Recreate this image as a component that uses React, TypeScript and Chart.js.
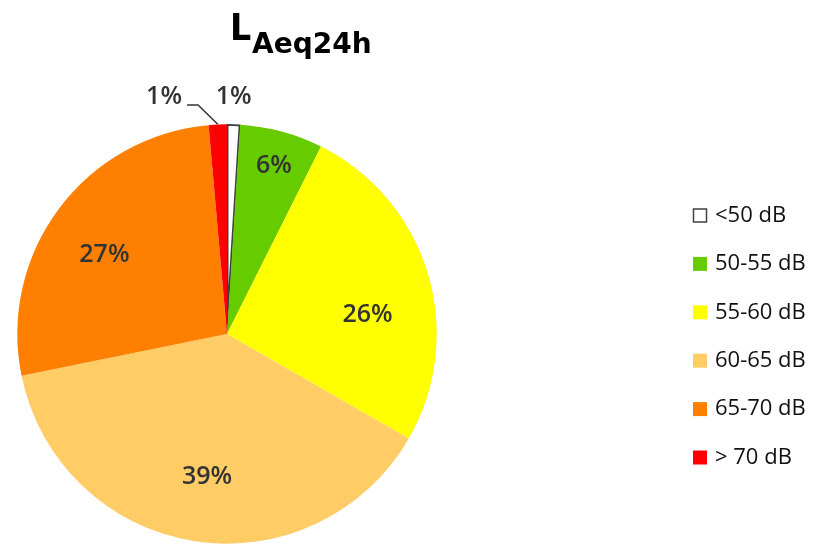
import React, { useEffect, useRef } from "react";
import { Chart, registerables } from "chart.js";

Chart.register(...registerables);

const categories = ["<50 dB", "50-55 dB", "55-60 dB", "60-65 dB", "65-70 dB", "> 70 dB"];
const shares = [1.0, 6.4, 25.9, 38.5, 26.8, 1.4];
const colors = ["#FFFFFF", "#66CC00", "#FFFF00", "#FFCC66", "#FF8000", "#FF0000"];
// label placement tweaks (radius factor, angle shift in degrees), mimicking Excel best-fit
const labelRadius = [1.134, 0.835, 0.676, 0.683, 0.697, 1.172];
const labelShift = [-0.2, 0.4, 8.6, -1.2, -3.6, -12.3];

const labelPlugin = {
  id: "pieLabels",
  afterDatasetsDraw(chart: any) {
    const ctx = chart.ctx;
    const meta = chart.getDatasetMeta(0);
    ctx.save();
    ctx.font = "600 25px 'Open Sans'";
    ctx.fillStyle = "#333333";
    ctx.textAlign = "center";
    ctx.textBaseline = "middle";
    meta.data.forEach((arc: any, i: number) => {
      const mid = (arc.startAngle + arc.endAngle) / 2;
      const a = mid + (labelShift[i] * Math.PI) / 180;
      const r = arc.outerRadius * labelRadius[i];
      const x = arc.x + Math.cos(a) * r;
      const y = arc.y + Math.sin(a) * r;
      ctx.fillText(Math.round(shares[i]) + "%", x, y + 1);
      if (labelRadius[i] > 1.15) {
        // leader line
        const ex = arc.x + Math.cos(mid) * arc.outerRadius;
        const ey = arc.y + Math.sin(mid) * arc.outerRadius;
        ctx.beginPath();
        ctx.strokeStyle = "#333333";
        ctx.lineWidth = 1.5;
        ctx.moveTo(ex, ey);
        ctx.lineTo(x + 34, y + 9);
        ctx.lineTo(x + 23, y + 9);
        ctx.stroke();
      }
    });
    ctx.restore();
  },
};

const titleLegendPlugin = {
  id: "titleLegend",
  afterDraw(chart: any) {
    const ctx = chart.ctx;
    ctx.save();
    ctx.fillStyle = "#000000";
    ctx.textBaseline = "alphabetic";
    ctx.textAlign = "left";
    ctx.font = "bold 37px 'DejaVu Sans Condensed', 'DejaVu Sans'";
    ctx.fillText("L", 230, 40);
    ctx.font = "bold 28px 'DejaVu Sans'";
    ctx.fillText("Aeq24h", 252, 53);

    // legend
    const x0 = 693;
    const y0 = 215.5;
    const step = 48.4;
    ctx.font = "22px 'Open Sans'";
    ctx.textBaseline = "middle";
    categories.forEach((c, i) => {
      const y = y0 + i * step;
      ctx.fillStyle = colors[i];
      ctx.fillRect(x0, y - 7, 14, 14);
      if (i === 0) {
        ctx.strokeStyle = "#404040";
        ctx.lineWidth = 1.5;
        ctx.strokeRect(x0 + 0.5, y - 6.5, 13, 13);
      }
      ctx.fillStyle = "#111111";
      ctx.fillText(c, 715, y);
    });
    ctx.restore();
  },
};

export default function App() {
  const ref = useRef<HTMLCanvasElement>(null);
  useEffect(() => {
    document.body.style.margin = "0";
    const chart = new Chart(ref.current!, {
      type: "pie",
      data: {
        labels: categories,
        datasets: [
          {
            data: shares,
            backgroundColor: colors,
            borderColor: ["#404040", "#fff", "#fff", "#fff", "#fff", "#fff"],
            borderWidth: [1.5, 0, 0, 0, 0, 0],
            borderAlign: "inner",
            hoverOffset: 0,
            offset: 0,
          } as any,
        ],
      },
      options: {
        animation: false,
        responsive: false,
        devicePixelRatio: 1,
        layout: { padding: { top: 124, bottom: 0, left: 17, right: 377 } },
        plugins: {
          legend: { display: false },
          title: { display: false },
          tooltip: { enabled: false },
        },
        events: [],
      },
      plugins: [labelPlugin, titleLegendPlugin],
    });
    return () => chart.destroy();
  }, []);
  return (
    <div style={{ width: 814, height: 544, background: "#fff" }}>
      <canvas ref={ref} width={814} height={544} style={{ display: "block" }} />
    </div>
  );
}
